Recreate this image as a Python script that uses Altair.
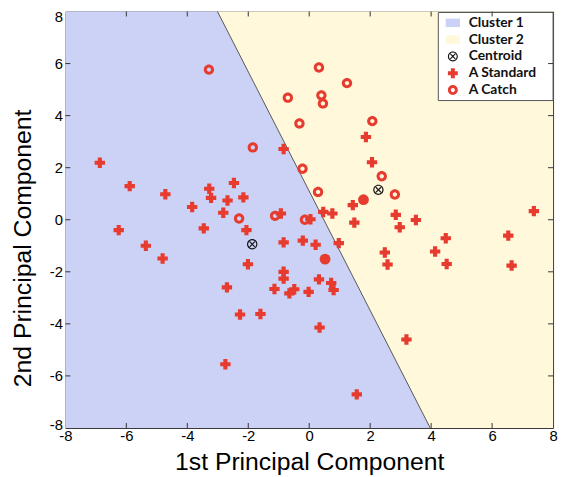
import altair as alt
import pandas as pd

# ---------------- data ----------------
std_x = [-6.87, -5.89, -4.72, -3.84, -6.25, -5.36, -4.81, -3.28, -3.22, -2.68,
         -2.16, -2.47, -2.82, -3.46, -2.06, -0.84, -0.93, 0.04, 0.46, 0.76,
         1.43, -0.84, -0.21, 0.21, 0.97, 1.48, -2.01, -2.70, -2.27, -1.60,
         -2.75, -1.14, -0.84, -0.84, -0.65, -0.49, -0.02, 0.32, 0.72, 0.80,
         0.34, 1.56, 3.19, 1.86, 2.06, 2.84, 2.97, 3.50, 4.48, 4.13,
         4.51, 2.48, 2.57, 6.53, 6.64, 7.37]
std_y = [2.19, 1.29, 0.98, 0.49, -0.40, -1.00, -1.49, 1.19, 0.84, 0.74,
         0.86, 1.41, 0.27, -0.33, -0.40, 2.72, 0.24, 0.02, 0.30, 0.24,
         0.56, -0.87, -0.80, -0.96, -0.90, -0.11, -1.71, -2.60, -3.64, -3.62,
         -5.55, -2.66, -2.00, -2.26, -2.83, -2.67, -2.77, -2.29, -2.43, -2.70,
         -4.14, -6.71, -4.60, 3.18, 2.21, 0.19, -0.29, -0.01, -0.71, -1.22,
         -1.70, -1.26, -1.72, -0.61, -1.76, 0.33]

catch_x = [-3.29, 0.32, 1.24, -0.70, 0.40, 0.45, -0.32, 2.07, -1.85, -0.22,
           2.38, 0.29, 2.81, -2.30, -1.12, -0.14]
catch_y = [5.77, 5.85, 5.25, 4.69, 4.78, 4.47, 3.70, 3.79, 2.78, 1.96,
           1.67, 1.07, 0.97, 0.05, 0.15, 0.00]

filled_x = [1.78, 0.52]
filled_y = [0.77, -1.51]

cent_x = [-1.87, 2.27]
cent_y = [-0.94, 1.15]

boundary_y = [-8, 8]
boundary_x = [3.97, -3.01]

ticks = [-8, -6, -4, -2, 0, 2, 4, 6, 8]
inner_ticks = [-6, -4, -2, 0, 2, 4, 6]

legend_labels = ["Cluster 1", "Cluster 2", "Centroid", "A Standard", "A Catch"]

# ---------------- styling ----------------
BLUE = "#CCD2F5"
YELLOW = "#FFF8DA"
RED = "#E63B2E"
W, H = 493, 421

RECT = "M-1.45,-0.85H1.45V0.85H-1.45Z"
RING = ("M-1,0A1,1,0,1,1,1,0A1,1,0,1,1,-1,0Z"
        "M-0.42,0A0.42,0.42,0,1,0,0.42,0A0.42,0.42,0,1,0,-0.42,0Z")
CENTROID = ("M-1,0A1,1,0,1,1,1,0A1,1,0,1,1,-1,0Z"
            "M-0.78,0A0.78,0.78,0,1,0,0.78,0A0.78,0.78,0,1,0,-0.78,0Z"
            "M0.417,0.573L0.573,0.417L-0.417,-0.573L-0.573,-0.417Z"
            "M0.573,-0.417L0.417,-0.573L-0.573,0.417L-0.417,0.573Z")

xs = alt.Scale(domain=[-8, 8], nice=False, zero=False)
ys = alt.Scale(domain=[-8, 8], nice=False, zero=False)

xax = alt.Axis(values=ticks, title="1st Principal Component", grid=False,
               ticks=False, domain=False, labelPadding=1,
               labelOverlap=False, labelFlush=False,
               labelExpr="'' + datum.value",
               titleY=42, titleBaseline="alphabetic")
yax = alt.Axis(values=ticks, title="2nd Principal Component", grid=False,
               ticks=False, domain=False, labelPadding=3,
               labelOverlap=False, labelFlush=False,
               labelExpr="'' + datum.value",
               labelOffset={"expr": "datum.value == 8 ? 5 : (datum.value == -8 ? -3 : 0)"},
               titleAngle=270, titleX=-35, titleY=239,
               titleBaseline="alphabetic", titleAlign="center")

bdf = pd.DataFrame({"y": boundary_y, "xb": boundary_x})

area1 = alt.Chart(bdf).transform_calculate(xl="-8").mark_area(
    orient="horizontal", color=BLUE, opacity=1).encode(
    y=alt.Y("y:Q", scale=ys, axis=yax),
    x=alt.X("xl:Q", scale=xs, axis=xax),
    x2=alt.X2("xb:Q"),
)
area2 = alt.Chart(bdf).transform_calculate(xr="8").mark_area(
    orient="horizontal", color=YELLOW, opacity=1).encode(
    y=alt.Y("y:Q", scale=ys, axis=yax),
    x=alt.X("xb:Q", scale=xs, axis=xax),
    x2=alt.X2("xr:Q"),
)
bline = alt.Chart(bdf).mark_line(color="#555555", strokeWidth=1).encode(
    y=alt.Y("y:Q", scale=ys, axis=yax),
    x=alt.X("xb:Q", scale=xs, axis=xax),
    order=alt.Order("y:Q"),
)

tdf = pd.DataFrame({"t": inner_ticks})
tick_color = "#333333"
tb = alt.Chart(tdf).mark_rule(color=tick_color, strokeWidth=1).encode(
    x=alt.X("t:Q", scale=xs, axis=xax), y=alt.value(H - 5), y2=alt.value(H))
tt = alt.Chart(tdf).mark_rule(color=tick_color, strokeWidth=1).encode(
    x=alt.X("t:Q", scale=xs, axis=xax), y=alt.value(0), y2=alt.value(5))
tl = alt.Chart(tdf).mark_rule(color=tick_color, strokeWidth=1).encode(
    y=alt.Y("t:Q", scale=ys, axis=yax), x=alt.value(0), x2=alt.value(5))
tr = alt.Chart(tdf).mark_rule(color=tick_color, strokeWidth=1).encode(
    y=alt.Y("t:Q", scale=ys, axis=yax), x=alt.value(W - 5), x2=alt.value(W))

pts = pd.concat([
    pd.DataFrame({"x": std_x, "y": std_y, "kind": "A Standard"}),
    pd.DataFrame({"x": catch_x, "y": catch_y, "kind": "A Catch"}),
    pd.DataFrame({"x": cent_x, "y": cent_y, "kind": "Centroid"}),
], ignore_index=True)

leg = alt.Legend(title=None, orient="none", legendX=384.7, legendY=4.4,
                 symbolSize=100, symbolStrokeWidth=0, labelOffset=9,
                 rowPadding=3, padding=0, labelFont="Lato",
                 labelFontSize=14, labelFontWeight="bold", labelColor="#111111")

box = alt.Chart(pd.DataFrame({"a": [0]})).mark_rect(
    fill="white", stroke="#555555", strokeWidth=1).encode(
    x=alt.value(377), x2=alt.value(W), y=alt.value(1), y2=alt.value(90))

points = alt.Chart(pts).mark_point(filled=True, opacity=1, strokeWidth=0).encode(
    x=alt.X("x:Q", scale=xs, axis=xax),
    y=alt.Y("y:Q", scale=ys, axis=yax),
    fill=alt.Fill("kind:N", scale=alt.Scale(domain=legend_labels,
                  range=[BLUE, YELLOW, "#111111", RED, RED]), legend=leg),
    shape=alt.Shape("kind:N", scale=alt.Scale(domain=legend_labels,
                    range=[RECT, RECT, CENTROID, "cross", RING]), legend=leg),
    size=alt.value(110),
)

filled = alt.Chart(pd.DataFrame({"x": filled_x, "y": filled_y})).mark_point(
    filled=True, opacity=1, strokeWidth=0, shape="circle", fill=RED, size=120).encode(
    x=alt.X("x:Q", scale=xs, axis=xax),
    y=alt.Y("y:Q", scale=ys, axis=yax),
)

chart = alt.layer(area1, area2, bline, box, tb, tt, tl, tr, points, filled).properties(
    width=W, height=H,
    autosize=alt.AutoSizeParams(type="none"),
    padding={"left": 58, "top": 1, "right": 5, "bottom": 47},
).configure_view(stroke="#333333", strokeWidth=1).configure_axis(
    labelFont="Liberation Sans", labelFontSize=15, labelColor="#000000",
    titleFont="Liberation Sans", titleFontSize=25, titleFontWeight="normal",
    titleColor="#000000",
)

chart.save("out.html", embed_options={"renderer": "svg", "actions": False})
